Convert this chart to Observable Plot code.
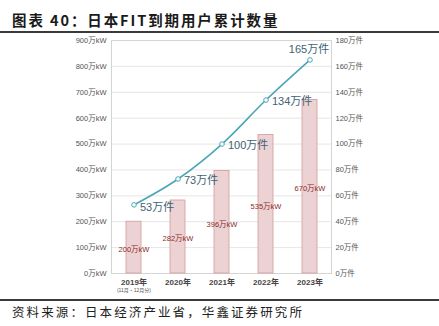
<!DOCTYPE html>
<html>
<head>
<meta charset="utf-8">
<script src="https://cdn.jsdelivr.net/npm/d3@7"></script>
<script src="https://cdn.jsdelivr.net/npm/@observablehq/plot@0.6"></script>
<style>
  html, body { margin: 0; padding: 0; background: #fff; }
  #page { position: relative; width: 439px; height: 326px; overflow: hidden; font-family: "Liberation Sans", "Noto Sans CJK SC", sans-serif; }
  #title { position: absolute; left: 12px; top: 11px; font-family: "Noto Sans CJK SC", sans-serif; font-weight: bold; font-size: 14.5px; line-height: 18px; letter-spacing: 1.9px; color: #1a1a1a; white-space: nowrap; }
  .rule { position: absolute; left: 0; width: 439px; height: 1.5px; background: #3a3a3a; }
  #chart { position: absolute; left: 0; top: 32px; }
  #caption { position: absolute; left: 12px; top: 305px; font-family: "Noto Sans CJK SC", sans-serif; font-size: 12.5px; line-height: 14px; letter-spacing: 2.1px; color: #222; white-space: nowrap; }
</style>
</head>
<body>
<div id="page">
  <div id="title">图表 40：日本FIT到期用户累计数量</div>
  <div class="rule" style="top:31px"></div>
  <div id="chart"></div>
  <div class="rule" style="top:299px"></div>
  <div id="caption">资料来源：日本经济产业省，华鑫证券研究所</div>
</div>
<script>
const years = ["2019年", "2020年", "2021年", "2022年", "2023年"];
const yearNote = "(11月・12月分)";
const capacity = [200, 282, 396, 535, 670];      // 万kW
const households = [53, 73, 100, 134, 165];      // 万件
const kwTicks = [0, 100, 200, 300, 400, 500, 600, 700, 800, 900];
const countTicks = [0, 20, 40, 60, 80, 100, 120, 140, 160, 180];

const ratio = 900 / 180;
const data = years.map((year, i) => ({ year, kw: capacity[i], count: households[i], i }));
const teal = "#4ba6b6";
const labelColor = "#3e6373";
const font = "'Liberation Sans', 'Noto Sans CJK SC', sans-serif";
const last = years.length - 1;

const chart = Plot.plot({
  width: 439,
  height: 268,
  marginTop: 8,
  marginBottom: 27,
  marginLeft: 111,
  marginRight: 108,
  style: { fontFamily: font, background: "transparent" },
  x: { type: "band", domain: years, paddingInner: 0.66, paddingOuter: 0.33 },
  y: { domain: [0, 900] },
  marks: [
    Plot.gridY(kwTicks, { stroke: "#e6e6e6", strokeOpacity: 1 }),
    Plot.frame({ stroke: "#d4d4d4" }),
    Plot.axisY(kwTicks, { anchor: "left", tickSize: 0, tickPadding: 5, fontSize: 7.5, fill: "#555", tickFormat: d => d + "万kW", label: null }),
    Plot.axisY(countTicks.map(c => c * ratio), { anchor: "right", tickSize: 0, tickPadding: 4, fontSize: 7.5, fill: "#555", tickFormat: d => (d / ratio) + "万件", label: null }),
    Plot.axisX({ tickSize: 0, tickPadding: 6, fontSize: 8, fontWeight: "bold", fill: "#444", label: null }),
    Plot.text([yearNote], { x: () => years[0], frameAnchor: "bottom", dy: 18, fontSize: 5, fill: "#555", text: d => d }),
    Plot.barY(data, { x: "year", y: "kw", fill: "#ecd2d2", stroke: "#d49a9a", strokeWidth: 0.8 }),
    Plot.text(data, { x: "year", y: d => d.kw / 2, text: d => d.kw + "万kW", dy: 2, fontSize: 7.5, fill: "#8b2b2b" }),
    Plot.line(data, { x: "year", y: d => d.count * ratio, stroke: teal, strokeWidth: 1.6, curve: "monotone-x" }),
    Plot.dot(data, { x: "year", y: d => d.count * ratio, r: 2.3, fill: "#fff", stroke: teal, strokeWidth: 1 }),
    Plot.text(data.filter(d => d.i === 0), { x: "year", y: d => d.count * ratio, text: d => d.count + "万件", textAnchor: "start", dx: 6, dy: 3, fontSize: 11, fill: labelColor }),
    Plot.text(data.filter(d => d.i > 0 && d.i < last), { x: "year", y: d => d.count * ratio, text: d => d.count + "万件", textAnchor: "start", dx: 6, dy: 1, fontSize: 11, fill: labelColor }),
    Plot.text(data.filter(d => d.i === last), { x: "year", y: d => d.count * ratio, text: d => d.count + "万件", dx: -1, dy: -10, fontSize: 11, fill: labelColor })
  ]
});
document.getElementById("chart").appendChild(chart);
</script>
</body>
</html>
